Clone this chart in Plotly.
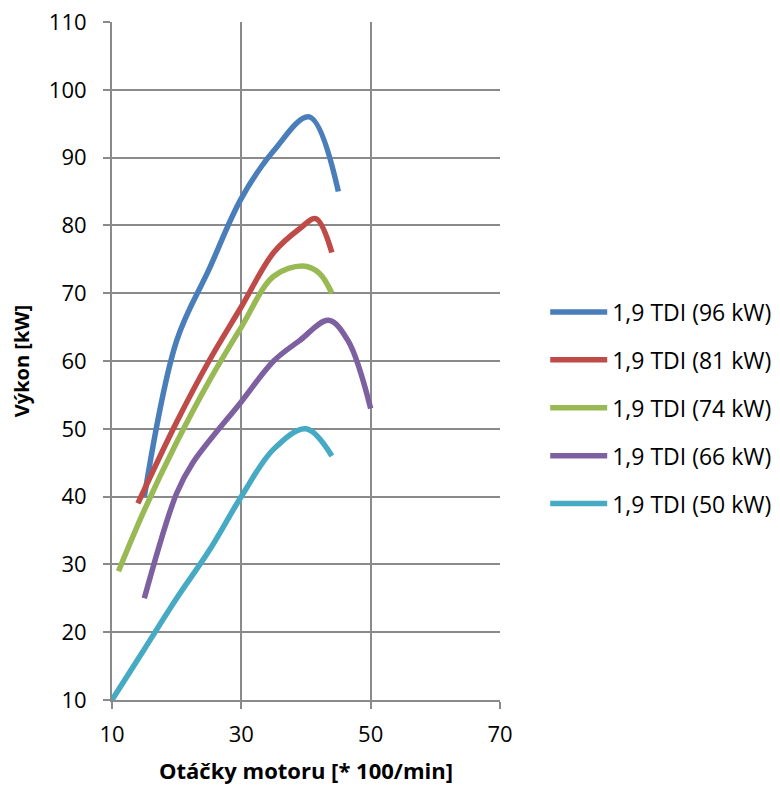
import plotly.graph_objects as go

names = ["1,9 TDI (96 kW)", "1,9 TDI (81 kW)", "1,9 TDI (74 kW)", "1,9 TDI (66 kW)", "1,9 TDI (50 kW)"]
colors = ["#4A7EBB", "#BE4B48", "#98B954", "#7D60A0", "#46AAC5"]

rpm_96 = [15, 20, 25, 30, 35, 40.5, 45]
kw_96 = [40, 63, 73.5, 84, 91, 96, 85]

rpm_81 = [14, 20, 25, 30, 35, 39, 41.5, 44]
kw_81 = [39, 51, 60, 68, 76, 79.5, 81, 76]

rpm_74 = [11, 15, 20, 25, 30, 35, 39.5, 42, 44]
kw_74 = [29, 38, 48, 57, 65, 72.5, 74, 73, 70]

rpm_66 = [15, 20, 22.5, 30, 35, 39, 43.5, 46.5, 50]
kw_66 = [25, 40.5, 45, 54, 60, 63, 66, 63, 53]

rpm_50 = [10, 15, 20, 25, 30, 35, 40, 44]
kw_50 = [10, 17.5, 25, 32, 40, 47, 50, 46]

series_x = [rpm_96, rpm_81, rpm_74, rpm_66, rpm_50]
series_y = [kw_96, kw_81, kw_74, kw_66, kw_50]

x_ticks = [10, 30, 50, 70]
y_ticks = [10, 20, 30, 40, 50, 60, 70, 80, 90, 100, 110]

FONT = "Open Sans, sans-serif"

fig = go.Figure()
for i, (xs, ys) in enumerate(zip(series_x, series_y)):
    fig.add_trace(go.Scatter(
        x=xs, y=ys, mode="lines", name=names[i],
        line=dict(color=colors[i], width=5.5, shape="spline", smoothing=1.0),
        legendgroup=f"g{i}",
    ))

grid = "#8A8A8A"
fig.update_layout(
    width=780, height=790,
    margin=dict(l=112, r=280, t=22, b=90, autoexpand=False),
    plot_bgcolor="white", paper_bgcolor="white",
    font=dict(family=FONT, size=22, color="black"),
    showlegend=True,
    legend=dict(
        x=1.1165, y=0.4307, xanchor="left", yanchor="middle",
        font=dict(family=FONT, size=23, color="black"),
        itemwidth=57, tracegroupgap=15, traceorder="grouped",
    ),
    xaxis=dict(
        range=[10, 70], tickvals=x_ticks, showgrid=True, gridcolor=grid, gridwidth=2,
        showline=True, linecolor=grid, linewidth=2, zeroline=False, automargin=False,
        ticks="outside", ticklen=7, tickcolor=grid, tickwidth=2,
        tickfont=dict(size=22), ticklabelstandoff=7, ticklabeloverflow="allow",
        title=dict(text="<b>Otáčky motoru [* 100/min]</b>", font=dict(size=22), standoff=16),
    ),
    yaxis=dict(
        range=[10, 110], tickvals=y_ticks, showgrid=True, gridcolor=grid, gridwidth=2,
        showline=True, linecolor=grid, linewidth=2, zeroline=False, automargin=False,
        ticks="outside", ticklen=7, tickcolor=grid, tickwidth=2,
        tickfont=dict(size=22), ticklabelstandoff=12, ticklabeloverflow="allow",
        title=dict(text="<b>Výkon [kW]</b>", font=dict(size=20), standoff=14),
    ),
)

fig.write_html("out.html", config={"displayModeBar": False},
               post_script="document.body.style.margin='0';")
